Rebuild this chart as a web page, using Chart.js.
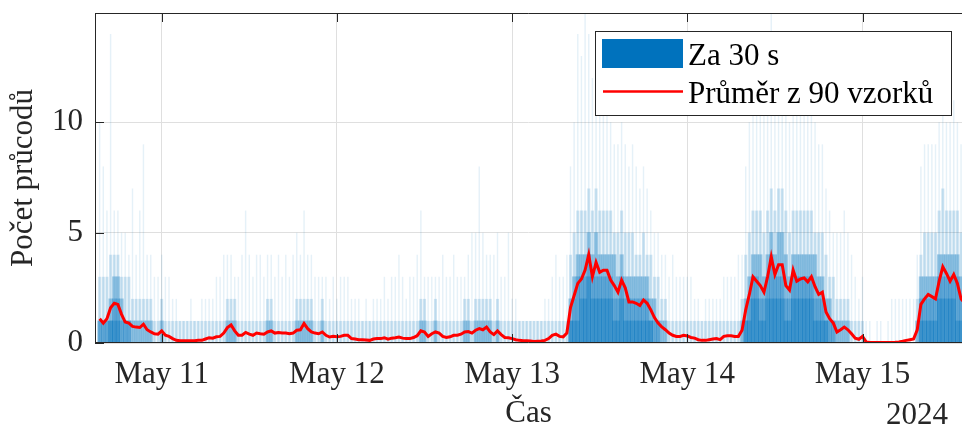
<!DOCTYPE html>
<html lang="cs">
<head>
<meta charset="utf-8">
<title>Počet průcodů</title>
<script src="https://cdn.jsdelivr.net/npm/chart.js@4.4.1/dist/chart.umd.min.js"></script>
<style>
  html, body { margin: 0; padding: 0; background: #fff; }
  #chart { display: block; }
</style>
</head>
<body>
<canvas id="chart" width="962" height="428"></canvas>
<script>
'use strict';

// time is in hours from May 11 00:00, one slot every 30 minutes starting May 10 15:30
const FIRST_SLOT = -8.5;
const SLOT_STEP = 0.5;

const dayTicks = [0, 24, 48, 72, 96];
const dayLabels = ['May 11', 'May 12', 'May 13', 'May 14', 'May 15'];
const yTicks = [0, 5, 10];
const yearLabel = '2024';

// moving average of 90 samples (red line)
const avgValues = [
  1.1, 0.9, 1.1, 1.6, 1.8, 1.75, 1.3, 0.95, 0.9, 0.75,
  0.72, 0.7, 0.85, 0.6, 0.5, 0.42, 0.4, 0.55,
  // May 11
  0.35, 0.3, 0.2, 0.12, 0.1, 0.1, 0.1, 0.1, 0.1, 0.12,
  0.12, 0.18, 0.24, 0.22, 0.28, 0.3, 0.45, 0.7, 0.82, 0.55,
  0.35, 0.35, 0.48, 0.4, 0.35, 0.45, 0.42, 0.4, 0.5, 0.55,
  0.45, 0.48, 0.45, 0.45, 0.42, 0.45, 0.58, 0.6, 0.88, 0.65,
  0.5, 0.45, 0.42, 0.5, 0.35, 0.27, 0.3, 0.28,
  // May 12
  0.3, 0.35, 0.35, 0.2, 0.18, 0.15, 0.15, 0.14, 0.12, 0.18,
  0.2, 0.2, 0.24, 0.17, 0.22, 0.24, 0.27, 0.22, 0.2, 0.2,
  0.25, 0.33, 0.55, 0.5, 0.3, 0.42, 0.5, 0.45, 0.3, 0.25,
  0.28, 0.35, 0.35, 0.4, 0.5, 0.52, 0.45, 0.58, 0.65, 0.6,
  0.72, 0.5, 0.38, 0.55, 0.38, 0.25, 0.24, 0.2,
  // May 13
  0.15, 0.12, 0.1, 0.1, 0.09, 0.07, 0.08, 0.09, 0.12, 0.2,
  0.35, 0.4, 0.3, 0.28, 0.45, 1.6, 2.15, 2.7, 2.9, 3.3,
  4.0, 3.0, 3.65, 3.2, 3.3, 3.3, 2.85, 2.6, 2.3, 2.85,
  2.5, 1.86, 1.86, 1.8, 1.7, 1.95, 1.8, 1.5, 1.15, 0.9,
  0.73, 0.6, 0.45, 0.35, 0.3, 0.3, 0.35, 0.32,
  // May 14
  0.25, 0.22, 0.15, 0.12, 0.12, 0.15, 0.18, 0.2, 0.15, 0.3,
  0.33, 0.33, 0.3, 0.3, 0.58, 1.5, 2.2, 3.0, 2.8, 2.6,
  2.3, 3.0, 3.9, 3.1, 3.55, 3.55, 2.6, 2.4, 3.3, 2.8,
  2.9, 2.95, 2.77, 3.0, 2.55, 2.2, 2.3, 1.4, 1.1, 0.9,
  0.5, 0.6, 0.72, 0.6, 0.42, 0.22, 0.17, 0.3,
  // May 15
  0.05, 0.02, 0.02, 0.02, 0.02, 0.02, 0.02, 0.02, 0.03, 0.05,
  0.08, 0.12, 0.15, 0.18, 0.6, 1.75, 2.0, 2.2, 2.1, 2.0,
  2.8, 3.45, 3.15, 2.8, 3.1, 2.7, 2.0, 1.8
];

// counts per 30 s inside each slot: lower quartile, median, upper quartile, 95th percentile, maximum
const lowCounts = [
  0, 0, 0, 1, 1, 1, 0, 0, 0, 0,
  0, 0, 0, 0, 0, 0, 0, 0,
  // May 11
  0, 0, 0, 0, 0, 0, 0, 0, 0, 0,
  0, 0, 0, 0, 0, 0, 0, 0, 0, 0,
  0, 0, 0, 0, 0, 0, 0, 0, 0, 0,
  0, 0, 0, 0, 0, 0, 0, 0, 0, 0,
  0, 0, 0, 0, 0, 0, 0, 0,
  // May 12
  0, 0, 0, 0, 0, 0, 0, 0, 0, 0,
  0, 0, 0, 0, 0, 0, 0, 0, 0, 0,
  0, 0, 0, 0, 0, 0, 0, 0, 0, 0,
  0, 0, 0, 0, 0, 0, 0, 0, 0, 0,
  0, 0, 0, 0, 0, 0, 0, 0,
  // May 13
  0, 0, 0, 0, 0, 0, 0, 0, 0, 0,
  0, 0, 0, 0, 0, 1, 1, 1, 2, 2,
  3, 2, 2, 2, 2, 2, 2, 1, 1, 2,
  1, 1, 1, 1, 1, 1, 1, 1, 0, 0,
  0, 0, 0, 0, 0, 0, 0, 0,
  // May 14
  0, 0, 0, 0, 0, 0, 0, 0, 0, 0,
  0, 0, 0, 0, 0, 1, 1, 2, 2, 1,
  1, 2, 2, 2, 2, 2, 1, 1, 2, 2,
  2, 2, 2, 2, 1, 1, 1, 1, 0, 0,
  0, 0, 0, 0, 0, 0, 0, 0,
  // May 15
  0, 0, 0, 0, 0, 0, 0, 0, 0, 0,
  0, 0, 0, 0, 0, 1, 1, 1, 1, 1,
  2, 2, 2, 2, 2, 1, 1, 1
];

const medianCounts = [
  1, 1, 1, 1, 2, 2, 1, 1, 1, 0,
  0, 0, 0, 0, 0, 0, 0, 0,
  // May 11
  0, 0, 0, 0, 0, 0, 0, 0, 0, 0,
  0, 0, 0, 0, 0, 0, 0, 0, 0, 0,
  0, 0, 0, 0, 0, 0, 0, 0, 0, 0,
  0, 0, 0, 0, 0, 0, 0, 0, 0, 0,
  0, 0, 0, 0, 0, 0, 0, 0,
  // May 12
  0, 0, 0, 0, 0, 0, 0, 0, 0, 0,
  0, 0, 0, 0, 0, 0, 0, 0, 0, 0,
  0, 0, 0, 0, 0, 0, 0, 0, 0, 0,
  0, 0, 0, 0, 0, 0, 0, 0, 0, 0,
  0, 0, 0, 0, 0, 0, 0, 0,
  // May 13
  0, 0, 0, 0, 0, 0, 0, 0, 0, 0,
  0, 0, 0, 0, 0, 1, 2, 3, 3, 3,
  4, 3, 3, 3, 3, 3, 3, 2, 2, 3,
  2, 2, 2, 2, 2, 2, 2, 1, 1, 1,
  0, 0, 0, 0, 0, 0, 0, 0,
  // May 14
  0, 0, 0, 0, 0, 0, 0, 0, 0, 0,
  0, 0, 0, 0, 0, 1, 2, 3, 3, 2,
  2, 3, 4, 3, 3, 3, 2, 2, 3, 3,
  3, 3, 3, 3, 2, 2, 2, 1, 1, 1,
  0, 0, 0, 0, 0, 0, 0, 0,
  // May 15
  0, 0, 0, 0, 0, 0, 0, 0, 0, 0,
  0, 0, 0, 0, 0, 2, 2, 2, 2, 2,
  3, 3, 3, 3, 3, 3, 2, 2
];

const upperCounts = [
  1, 1, 1, 2, 3, 3, 2, 1, 1, 1,
  1, 1, 1, 1, 1, 0, 0, 1,
  // May 11
  0, 0, 0, 0, 0, 0, 0, 0, 0, 0,
  0, 0, 0, 0, 0, 0, 0, 1, 1, 1,
  0, 0, 0, 0, 0, 0, 0, 0, 1, 1,
  0, 0, 0, 0, 0, 0, 1, 1, 1, 1,
  1, 0, 0, 1, 0, 0, 0, 0,
  // May 12
  0, 0, 0, 0, 0, 0, 0, 0, 0, 0,
  0, 0, 0, 0, 0, 0, 0, 0, 0, 0,
  0, 0, 1, 1, 0, 0, 1, 0, 0, 0,
  0, 0, 0, 0, 1, 1, 0, 1, 1, 1,
  1, 1, 0, 1, 0, 0, 0, 0,
  // May 13
  0, 0, 0, 0, 0, 0, 0, 0, 0, 0,
  0, 0, 0, 0, 0, 2, 3, 4, 4, 4,
  5, 4, 5, 4, 4, 4, 4, 4, 3, 4,
  3, 3, 3, 3, 3, 3, 3, 2, 2, 1,
  1, 1, 0, 0, 0, 0, 0, 0,
  // May 14
  0, 0, 0, 0, 0, 0, 0, 0, 0, 0,
  0, 0, 0, 0, 1, 2, 3, 4, 4, 4,
  3, 4, 5, 4, 5, 5, 4, 3, 4, 4,
  4, 4, 4, 4, 4, 3, 3, 2, 2, 1,
  1, 1, 1, 1, 0, 0, 0, 0,
  // May 15
  0, 0, 0, 0, 0, 0, 0, 0, 0, 0,
  0, 0, 0, 0, 1, 3, 3, 3, 3, 3,
  4, 4, 4, 4, 4, 4, 3, 3
];

const highCounts = [
  3, 3, 3, 4, 4, 4, 3, 3, 3, 2,
  2, 2, 2, 2, 2, 1, 1, 2,
  // May 11
  1, 1, 1, 1, 1, 1, 1, 1, 1, 1,
  1, 1, 1, 1, 1, 1, 1, 2, 2, 2,
  1, 1, 1, 1, 1, 1, 1, 1, 2, 2,
  1, 1, 1, 1, 1, 1, 2, 2, 2, 2,
  2, 1, 1, 2, 1, 1, 1, 1,
  // May 12
  1, 1, 1, 1, 1, 1, 1, 1, 1, 1,
  1, 1, 1, 1, 1, 1, 1, 1, 1, 1,
  1, 1, 2, 2, 1, 1, 2, 1, 1, 1,
  1, 1, 1, 1, 2, 2, 1, 2, 2, 2,
  2, 2, 1, 2, 1, 1, 1, 1,
  // May 13
  1, 1, 1, 1, 1, 1, 1, 1, 1, 1,
  1, 1, 1, 1, 1, 4, 5, 6, 6, 6,
  7, 6, 7, 6, 6, 6, 6, 5, 5, 6,
  5, 5, 5, 4, 4, 5, 4, 4, 3, 3,
  2, 2, 1, 1, 1, 1, 1, 1,
  // May 14
  1, 1, 1, 1, 1, 1, 1, 1, 1, 1,
  1, 1, 1, 1, 2, 4, 5, 6, 6, 6,
  5, 6, 7, 6, 7, 7, 6, 5, 6, 6,
  6, 6, 6, 6, 5, 5, 5, 4, 3, 3,
  2, 2, 2, 2, 1, 1, 1, 1,
  // May 15
  0, 0, 0, 0, 0, 0, 0, 0, 0, 0,
  0, 0, 0, 0, 2, 4, 5, 5, 5, 5,
  6, 7, 6, 6, 6, 6, 5, 5
];

const maxCounts = [
  10, 8, 6, 14, 6, 6, 5, 5, 4, 7,
  4, 6, 9, 4, 4, 3, 3, 4,
  // May 11
  3, 3, 2, 2, 1, 1, 1, 2, 1, 1,
  2, 2, 2, 2, 3, 3, 4, 4, 4, 3,
  3, 4, 6, 4, 3, 4, 4, 3, 4, 4,
  3, 4, 3, 4, 3, 4, 5, 4, 6, 4,
  4, 3, 3, 3, 3, 2, 3, 2,
  // May 12
  3, 3, 3, 2, 2, 2, 1, 2, 1, 2,
  2, 2, 3, 2, 3, 3, 4, 3, 2, 3,
  3, 4, 6, 3, 3, 3, 3, 3, 4, 3,
  3, 4, 3, 3, 3, 4, 5, 5, 8, 5,
  4, 4, 4, 5, 3, 3, 5, 2,
  // May 13
  2, 1, 1, 1, 1, 1, 1, 1, 2, 2,
  3, 4, 3, 3, 4, 8, 10, 14, 13, 15,
  14, 12, 13, 11, 12, 11, 10, 9, 9, 10,
  9, 8, 9, 8, 7, 8, 7, 6, 5, 5,
  4, 4, 3, 4, 3, 3, 3, 3,
  // May 14
  3, 2, 2, 1, 2, 2, 2, 2, 2, 3,
  3, 3, 3, 4, 4, 8, 10, 12, 13, 12,
  11, 13, 15, 12, 14, 13, 11, 10, 12, 11,
  12, 11, 11, 11, 10, 9, 9, 7, 6, 5,
  5, 5, 6, 5, 4, 3, 2, 3,
  // May 15
  1, 1, 0, 1, 1, 0, 1, 2, 2, 2,
  2, 2, 2, 2, 4, 8, 9, 9, 9, 9,
  10, 11, 10, 10, 11, 10, 9, 8
];

const BAR_COLOR = '#0072BD';
const LINE_COLOR = '#FF0000';
const AXIS_COLOR = '#262626';
const GRID_COLOR = '#dfdfdf';
const FONT_FAMILY = '"Liberation Serif", "Times New Roman", serif';

const countSeries = { lowCounts, medianCounts, upperCounts, highCounts, maxCounts };
for (const [name, arr] of Object.entries(countSeries)) {
  if (arr.length !== avgValues.length) {
    throw new Error(`${name}: length ${arr.length} vs ${avgValues.length}`);
  }
}

function toPoints(values) {
  return values.map((value, i) => ({ x: FIRST_SLOT + i * SLOT_STEP, y: value }));
}

function barLayer(label, values, alpha, width) {
  return {
    type: 'bar',
    label,
    data: toPoints(values),
    backgroundColor: `rgba(0, 114, 189, ${alpha})`,
    borderWidth: 0,
    grouped: false,
    barPercentage: width,
    categoryPercentage: 1,
    order: 1
  };
}

const frameAndLegend = {
  id: 'frameAndLegend',
  afterDatasetsDraw(chart) {
    const { ctx, chartArea: area, scales } = chart;
    const tickLen = 9;
    ctx.save();

    // axes box (left, top, bottom) with inward ticks
    ctx.strokeStyle = AXIS_COLOR;
    ctx.lineWidth = 1;
    ctx.beginPath();
    ctx.moveTo(area.left + 0.5, area.top + 0.5);
    ctx.lineTo(area.right, area.top + 0.5);
    ctx.moveTo(area.left + 0.5, area.top);
    ctx.lineTo(area.left + 0.5, area.bottom);
    ctx.moveTo(area.left, area.bottom - 0.5);
    ctx.lineTo(area.right, area.bottom - 0.5);

    for (const value of dayTicks) {
      const x = Math.round(scales.x.getPixelForValue(value)) + 0.5;
      ctx.moveTo(x, area.bottom);
      ctx.lineTo(x, area.bottom - tickLen);
      ctx.moveTo(x, area.top);
      ctx.lineTo(x, area.top + tickLen);
    }
    for (const value of yTicks) {
      const y = Math.round(scales.y.getPixelForValue(value)) + 0.5;
      ctx.moveTo(area.left, y);
      ctx.lineTo(area.left + tickLen, y);
    }
    ctx.stroke();

    // year under the last tick label
    ctx.fillStyle = AXIS_COLOR;
    ctx.font = `31px ${FONT_FAMILY}`;
    ctx.textAlign = 'right';
    ctx.textBaseline = 'alphabetic';
    ctx.fillText(yearLabel, 948, 424);

    // legend box
    const box = { x: 595.5, y: 31.5, w: 356, h: 84 };
    ctx.fillStyle = '#ffffff';
    ctx.fillRect(box.x, box.y, box.w, box.h);
    ctx.strokeStyle = AXIS_COLOR;
    ctx.strokeRect(box.x, box.y, box.w, box.h);

    const items = chart.data.datasets.filter((ds) => ds.label);
    items.sort((a, b) => (a.type === 'bar' ? -1 : 1) - (b.type === 'bar' ? -1 : 1));
    ctx.textAlign = 'left';
    items.forEach((ds, idx) => {
      const rowY = 53 + idx * 38.5;
      if (ds.type === 'bar') {
        ctx.fillStyle = BAR_COLOR;
        ctx.fillRect(602, rowY - 14, 81, 29);
      } else {
        ctx.strokeStyle = ds.borderColor;
        ctx.lineWidth = 2.5;
        ctx.beginPath();
        ctx.moveTo(603, rowY);
        ctx.lineTo(683, rowY);
        ctx.stroke();
      }
      ctx.fillStyle = '#000000';
      ctx.font = `31px ${FONT_FAMILY}`;
      ctx.fillText(ds.label, 688, rowY + 11.5);
    });

    ctx.restore();
  }
};

const tickFont = { family: FONT_FAMILY, size: 31 };
const titleFont = { family: FONT_FAMILY, size: 31, lineHeight: 1 };

new Chart(document.getElementById('chart'), {
  data: {
    datasets: [
      {
        type: 'line',
        label: 'Průměr z 90 vzorků',
        data: toPoints(avgValues),
        borderColor: LINE_COLOR,
        borderWidth: 3,
        pointRadius: 0,
        tension: 0,
        order: 0
      },
      barLayer('Za 30 s', lowCounts, 0.35, 1),
      barLayer('', medianCounts, 0.3, 1),
      barLayer('', upperCounts, 0.33, 1),
      barLayer('', highCounts, 0.18, 0.85),
      barLayer('', maxCounts, 0.1, 0.4)
    ]
  },
  options: {
    responsive: false,
    animation: false,
    events: [],
    layout: { padding: { top: 13, right: 0, bottom: 0, left: 0 } },
    plugins: {
      legend: { display: false },
      tooltip: { enabled: false }
    },
    scales: {
      x: {
        type: 'linear',
        offset: false,
        min: -9.137,
        max: 109.63,
        afterBuildTicks(scale) {
          scale.ticks = dayTicks.map((value) => ({ value }));
        },
        ticks: {
          font: tickFont,
          color: AXIS_COLOR,
          padding: 13,
          maxRotation: 0,
          autoSkip: false,
          callback(value) {
            return dayLabels[dayTicks.indexOf(value)];
          }
        },
        grid: { color: GRID_COLOR, drawTicks: false, offset: false },
        border: { display: false },
        title: {
          display: true,
          text: 'Čas',
          font: titleFont,
          color: AXIS_COLOR,
          padding: { top: 0, bottom: -1 }
        },
        afterFit(scale) {
          scale.height = 85;
          scale.paddingLeft = 0;
          scale.paddingRight = 0;
        }
      },
      y: {
        min: 0,
        max: 14.95,
        afterBuildTicks(scale) {
          scale.ticks = yTicks.map((value) => ({ value }));
        },
        ticks: { font: tickFont, color: AXIS_COLOR, padding: 12 },
        grid: { color: GRID_COLOR, drawTicks: false },
        border: { display: false },
        title: {
          display: true,
          text: 'Počet průcodů',
          font: titleFont,
          color: AXIS_COLOR,
          padding: { top: 8.5, bottom: 0 }
        },
        afterFit(scale) {
          scale.width = 95;
          scale.paddingTop = 0;
          scale.paddingBottom = 0;
        }
      }
    }
  },
  plugins: [frameAndLegend]
});
</script>
</body>
</html>
